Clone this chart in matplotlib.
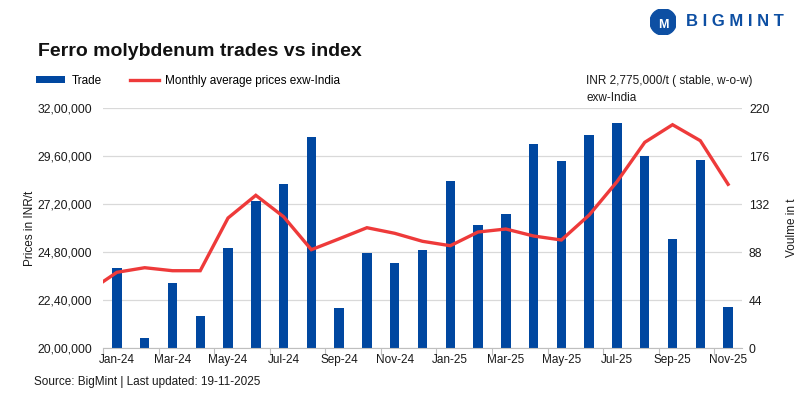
import numpy as np
import matplotlib
matplotlib.use("Agg")
import matplotlib.pyplot as plt
from matplotlib.ticker import FuncFormatter
from matplotlib.patches import Circle

plt.rcParams['font.family'] = ['Liberation Sans', 'DejaVu Sans']

# data
months = ["Jan-24", "Feb-24", "Mar-24", "Apr-24", "May-24", "Jun-24", "Jul-24", "Aug-24",
          "Sep-24", "Oct-24", "Nov-24", "Dec-24", "Jan-25", "Feb-25", "Mar-25", "Apr-25",
          "May-25", "Jun-25", "Jul-25", "Aug-25", "Sep-25", "Oct-25", "Nov-25"]
trade = [73, 9, 60, 29, 92, 135, 150, 193, 37, 87, 78, 90, 153, 113, 123, 187,
         171, 195, 206, 176, 100, 172, 38]
# first value is the Dec-23 lead-in that runs off the left edge
price = [2284500, 2378500, 2401500, 2386500, 2386500, 2650000, 2763500, 2656500, 2491500,
         2546000, 2601500, 2573500, 2533500, 2511500, 2580000, 2595000, 2560000,
         2540000, 2665000, 2831500, 3028500, 3116500, 3036500, 2818500]

BLUE = "#0047a0"
RED = "#ee3a3a"
GRID = "#d9d9d9"
TXT = "#1a1a1a"


def indian(v, pos=None):
    s = str(int(round(v)))
    last3, rest = s[-3:], s[:-3]
    parts = []
    while len(rest) > 2:
        parts.insert(0, rest[-2:])
        rest = rest[:-2]
    if rest:
        parts.insert(0, rest)
    return ",".join(parts + [last3])


fig = plt.figure(figsize=(8, 3.99), dpi=100)
ax = fig.add_axes([0.12875, 0.1278, 0.79875, 0.6015])
ax2 = ax.twinx()

x = np.arange(len(months))
ax.bar(x, trade, width=0.34, color=BLUE, zorder=2, label="Trade")
ax.set_ylim(0, 220)
ax.set_yticks(np.arange(0, 221, 44))
ax.grid(axis="y", color=GRID, linewidth=0.9, zorder=0)
ax.set_axisbelow(True)
ax.set_xlim(-0.5, len(months) - 0.5)

ax2.plot(np.arange(-1, len(months)), price, color=RED, linewidth=2.4, zorder=3,
         solid_joinstyle="miter", label="Monthly average prices exw-India")
ax2.set_ylim(2000000, 3200000)
ax2.set_yticks(np.arange(2000000, 3200001, 240000))
ax2.yaxis.set_major_formatter(FuncFormatter(indian))
ax2.set_xlim(-0.5, len(months) - 0.5)

# bars axis on the right, price axis on the left
ax.yaxis.tick_right()
ax.yaxis.set_label_position("right")
ax.set_ylabel("Voulme in t", fontsize=8.5, color=TXT, labelpad=12)
ax2.yaxis.tick_left()
ax2.yaxis.set_label_position("left")
ax2.set_ylabel("Prices in INR/t", fontsize=8.5, color=TXT, labelpad=1)

for a in (ax, ax2):
    for s in a.spines.values():
        s.set_visible(False)
    a.tick_params(axis="y", length=0, labelsize=8.7, labelcolor=TXT)
ax.tick_params(axis="y", pad=5)
ax2.tick_params(axis="y", pad=8)
ax.spines["bottom"].set_visible(True)
ax.spines["bottom"].set_color("#bfbfbf")

# category ticks between every second pair, labels on every second month
ax.set_xticks(np.arange(-0.5, len(months), 2))
ax.set_xticklabels([])
ax.set_xticks(x[::2], minor=True)
ax.set_xticklabels(months[::2], minor=True)
ax.tick_params(axis="x", which="major", length=5, color="#bfbfbf")
ax.tick_params(axis="x", which="minor", length=0, pad=4, labelsize=8.5, labelcolor=TXT)

fig.text(0.047, 0.87, "Ferro molybdenum trades vs index", fontsize=14, fontweight="bold",
         color="#111111", va="center")

# legend
fig.legend(handles=[ax.containers[0], ax2.lines[0]],
           labels=["Trade", "Monthly average prices exw-India"],
           loc="center left", bbox_to_anchor=(0.039, 0.797), ncol=2, frameon=False,
           fontsize=8.5, handlelength=2.5, handleheight=0.55, columnspacing=2.4,
           handletextpad=0.5, borderaxespad=0)

fig.text(0.733, 0.797, "INR 2,775,000/t ( stable, w-o-w)", fontsize=8.5, color=TXT, va="center")
fig.text(0.733, 0.754, "exw-India", fontsize=8.5, color=TXT, va="center")

fig.text(0.042, 0.043, "Source: BigMint | Last updated: 19-11-2025", fontsize=8.5,
         color=TXT, va="center")

# logo
logo = fig.add_axes([0.8125, 0.912, 0.033, 0.066])
logo.set_xlim(-1, 1)
logo.set_ylim(-1, 1)
logo.set_aspect("equal")
logo.axis("off")
logo.add_patch(Circle((0, 0), 1, color="#0d4fa3"))
logo.text(0, -0.2, "M", color="white", fontsize=9, fontweight="bold", ha="center", va="center")
fig.text(0.857, 0.946, "B I G M I N T", fontsize=12, fontweight="bold", color="#0d4fa3",
         va="center")

fig.savefig("out.png", dpi=100)
